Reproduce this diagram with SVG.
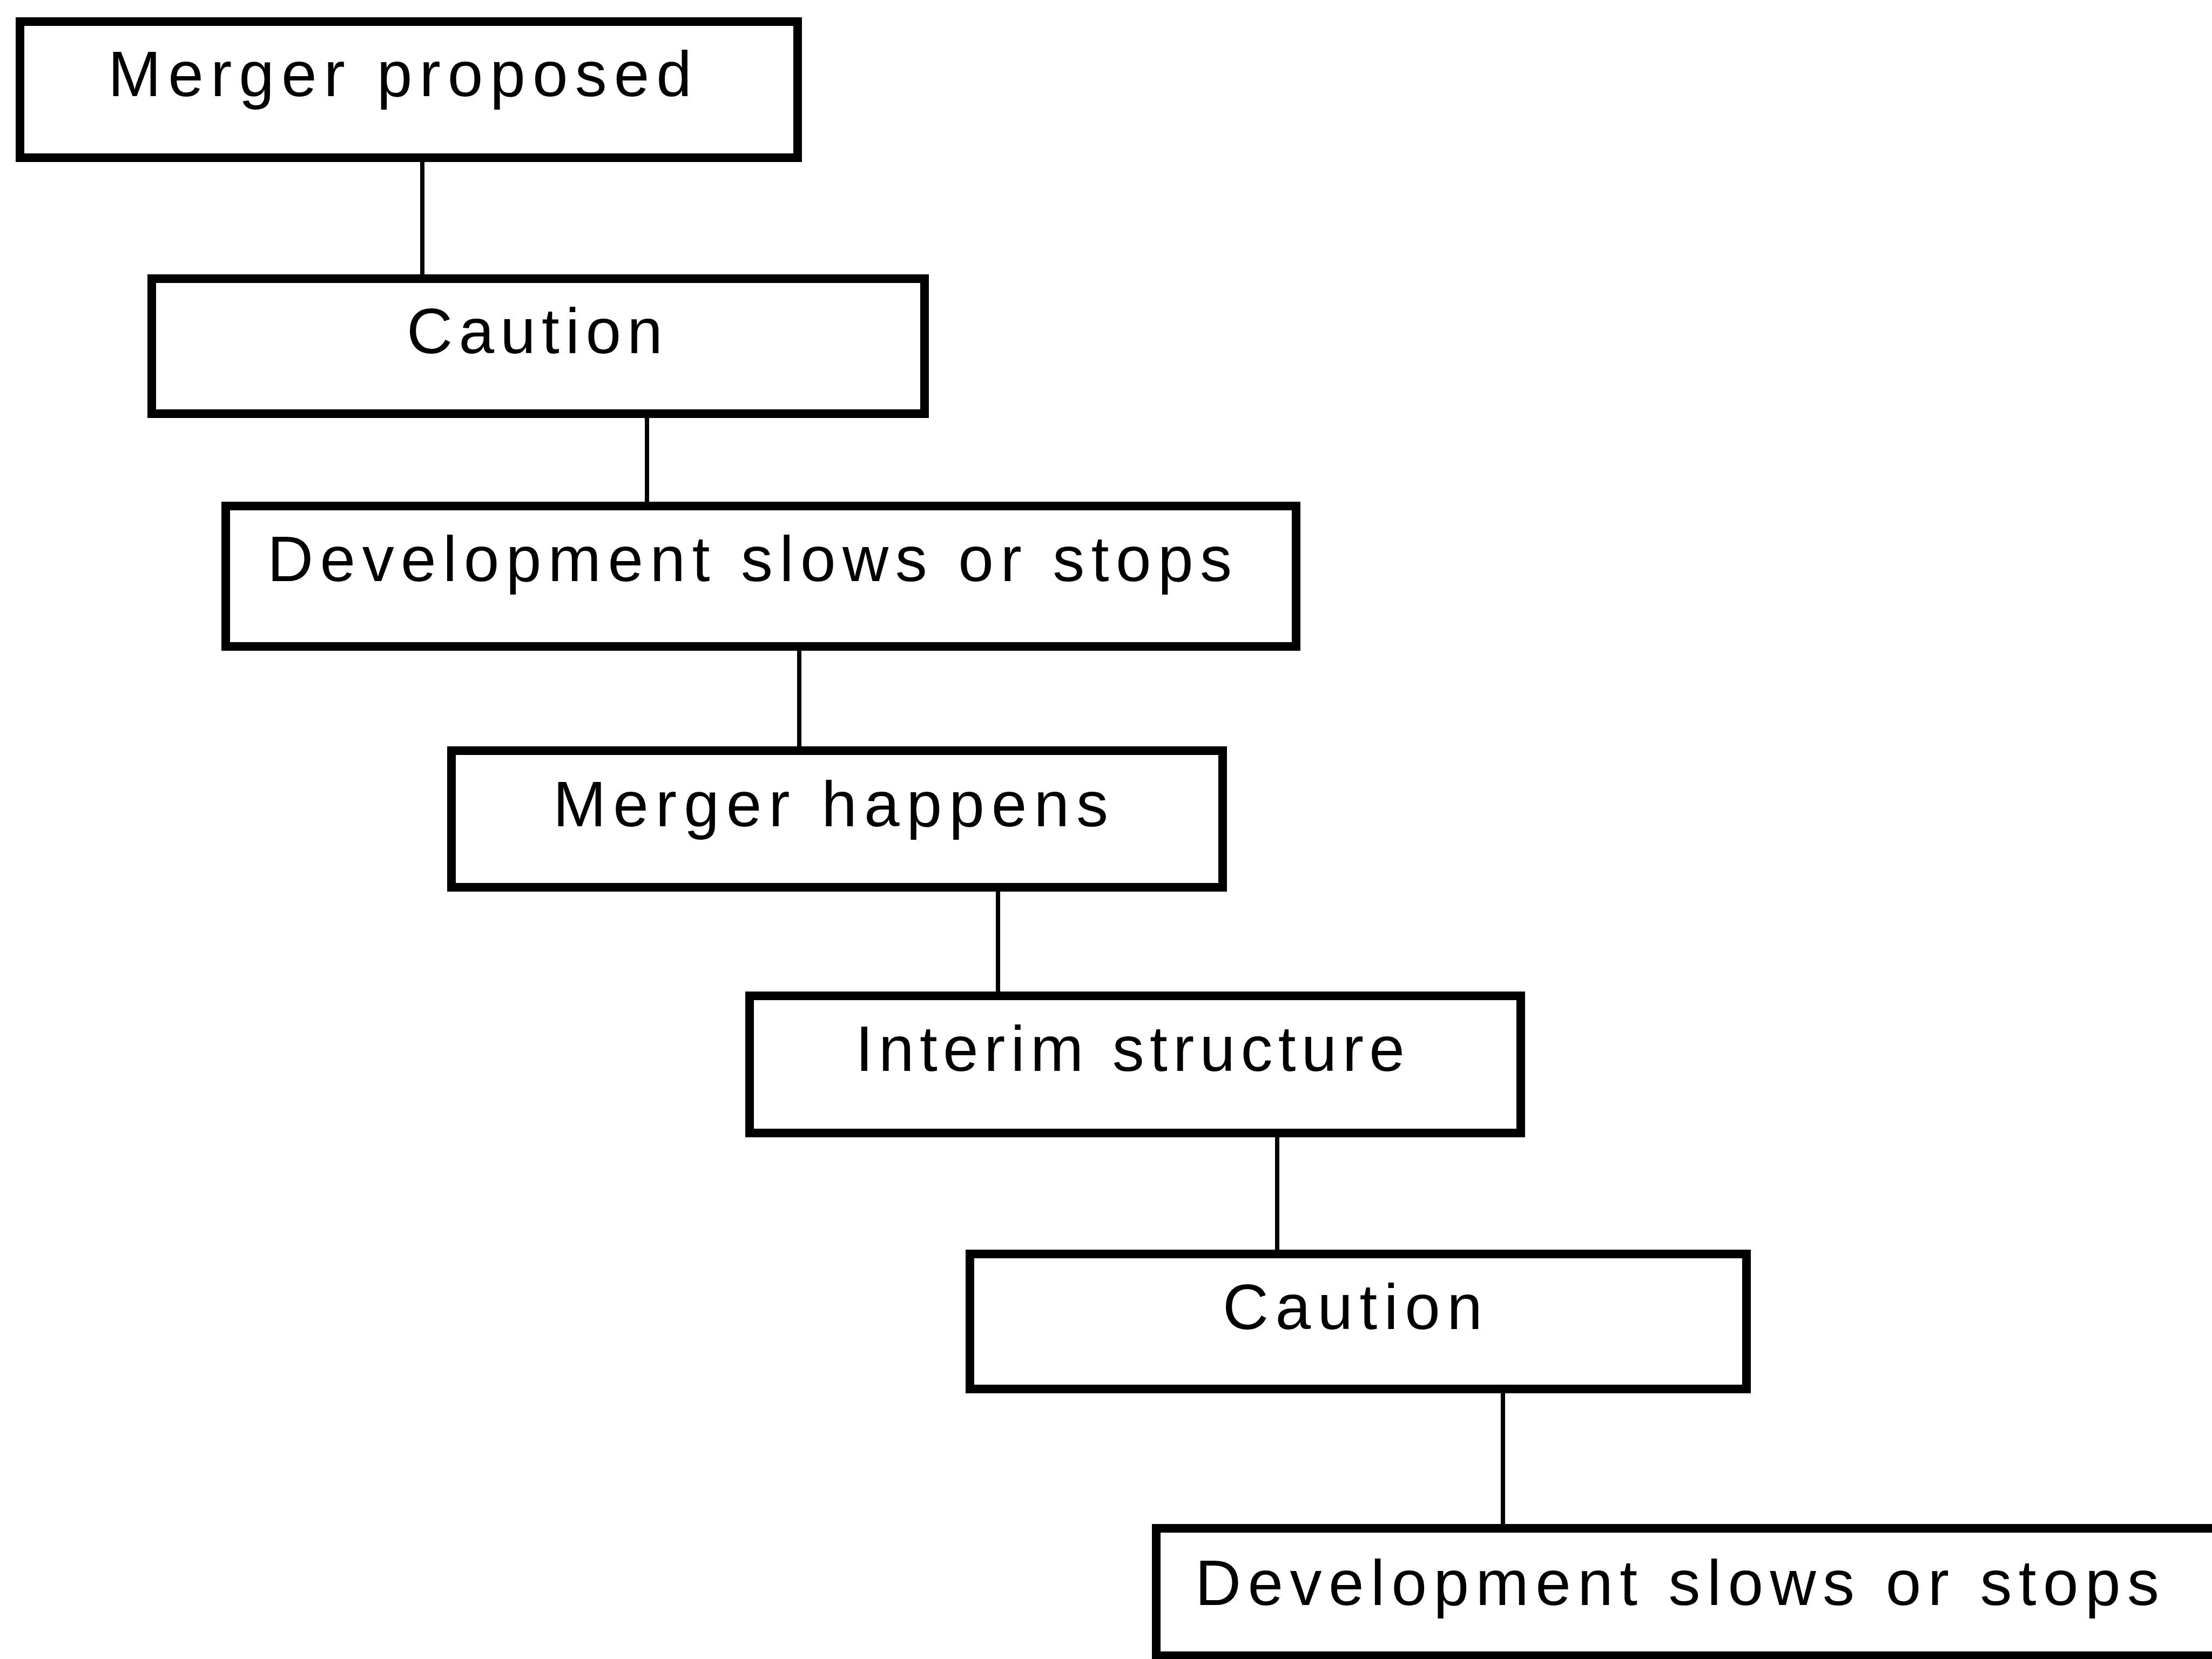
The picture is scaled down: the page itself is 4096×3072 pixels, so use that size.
<svg xmlns="http://www.w3.org/2000/svg" width="4096" height="3072" viewBox="0 0 4096 3072">
<style>
.box{fill:#fff;stroke:#000;stroke-width:16}
.lbl{font-family:"Liberation Sans",Arial,sans-serif;font-size:118px;fill:#000}
.con{stroke:#000;stroke-width:8;fill:none}
</style>
<rect width="4096" height="3072" fill="#fff"/>
<g id="connectors">
<line class="con" x1="782" y1="292" x2="782" y2="516"/>
<line class="con" x1="1198" y1="766" x2="1198" y2="937"/>
<line class="con" x1="1480" y1="1197" x2="1480" y2="1390"/>
<line class="con" x1="1848" y1="1643" x2="1848" y2="1844"/>
<line class="con" x1="2365" y1="2098" x2="2365" y2="2322"/>
<line class="con" x1="2783" y1="2572" x2="2783" y2="2830"/>
</g>
<g id="n1"><rect class="box" x="37" y="40" width="1440" height="252"/><text class="lbl" x="200" y="178" textLength="1081" lengthAdjust="spacing">Merger proposed</text></g>
<g id="n2"><rect class="box" x="281" y="516" width="1431" height="250"/><text class="lbl" x="753" y="654" textLength="474" lengthAdjust="spacing">Caution</text></g>
<g id="n3"><rect class="box" x="418" y="937" width="1982" height="260"/><text class="lbl" x="495" y="1076" textLength="1786" lengthAdjust="spacing">Development slows or stops</text></g>
<g id="n4"><rect class="box" x="836" y="1390" width="1428" height="253"/><text class="lbl" x="1024" y="1530" textLength="1028" lengthAdjust="spacing">Merger happens</text></g>
<g id="n5"><rect class="box" x="1388" y="1844" width="1428" height="254"/><text class="lbl" x="1584" y="1983" textLength="1017" lengthAdjust="spacing">Interim structure</text></g>
<g id="n6"><rect class="box" x="1796" y="2322" width="1438" height="250"/><text class="lbl" x="2264" y="2461" textLength="481" lengthAdjust="spacing">Caution</text></g>
<g id="n7"><rect class="box" x="2141" y="2830" width="2000" height="236"/><text class="lbl" x="2213" y="2972" textLength="1785" lengthAdjust="spacing">Development slows or stops</text></g>
</svg>
